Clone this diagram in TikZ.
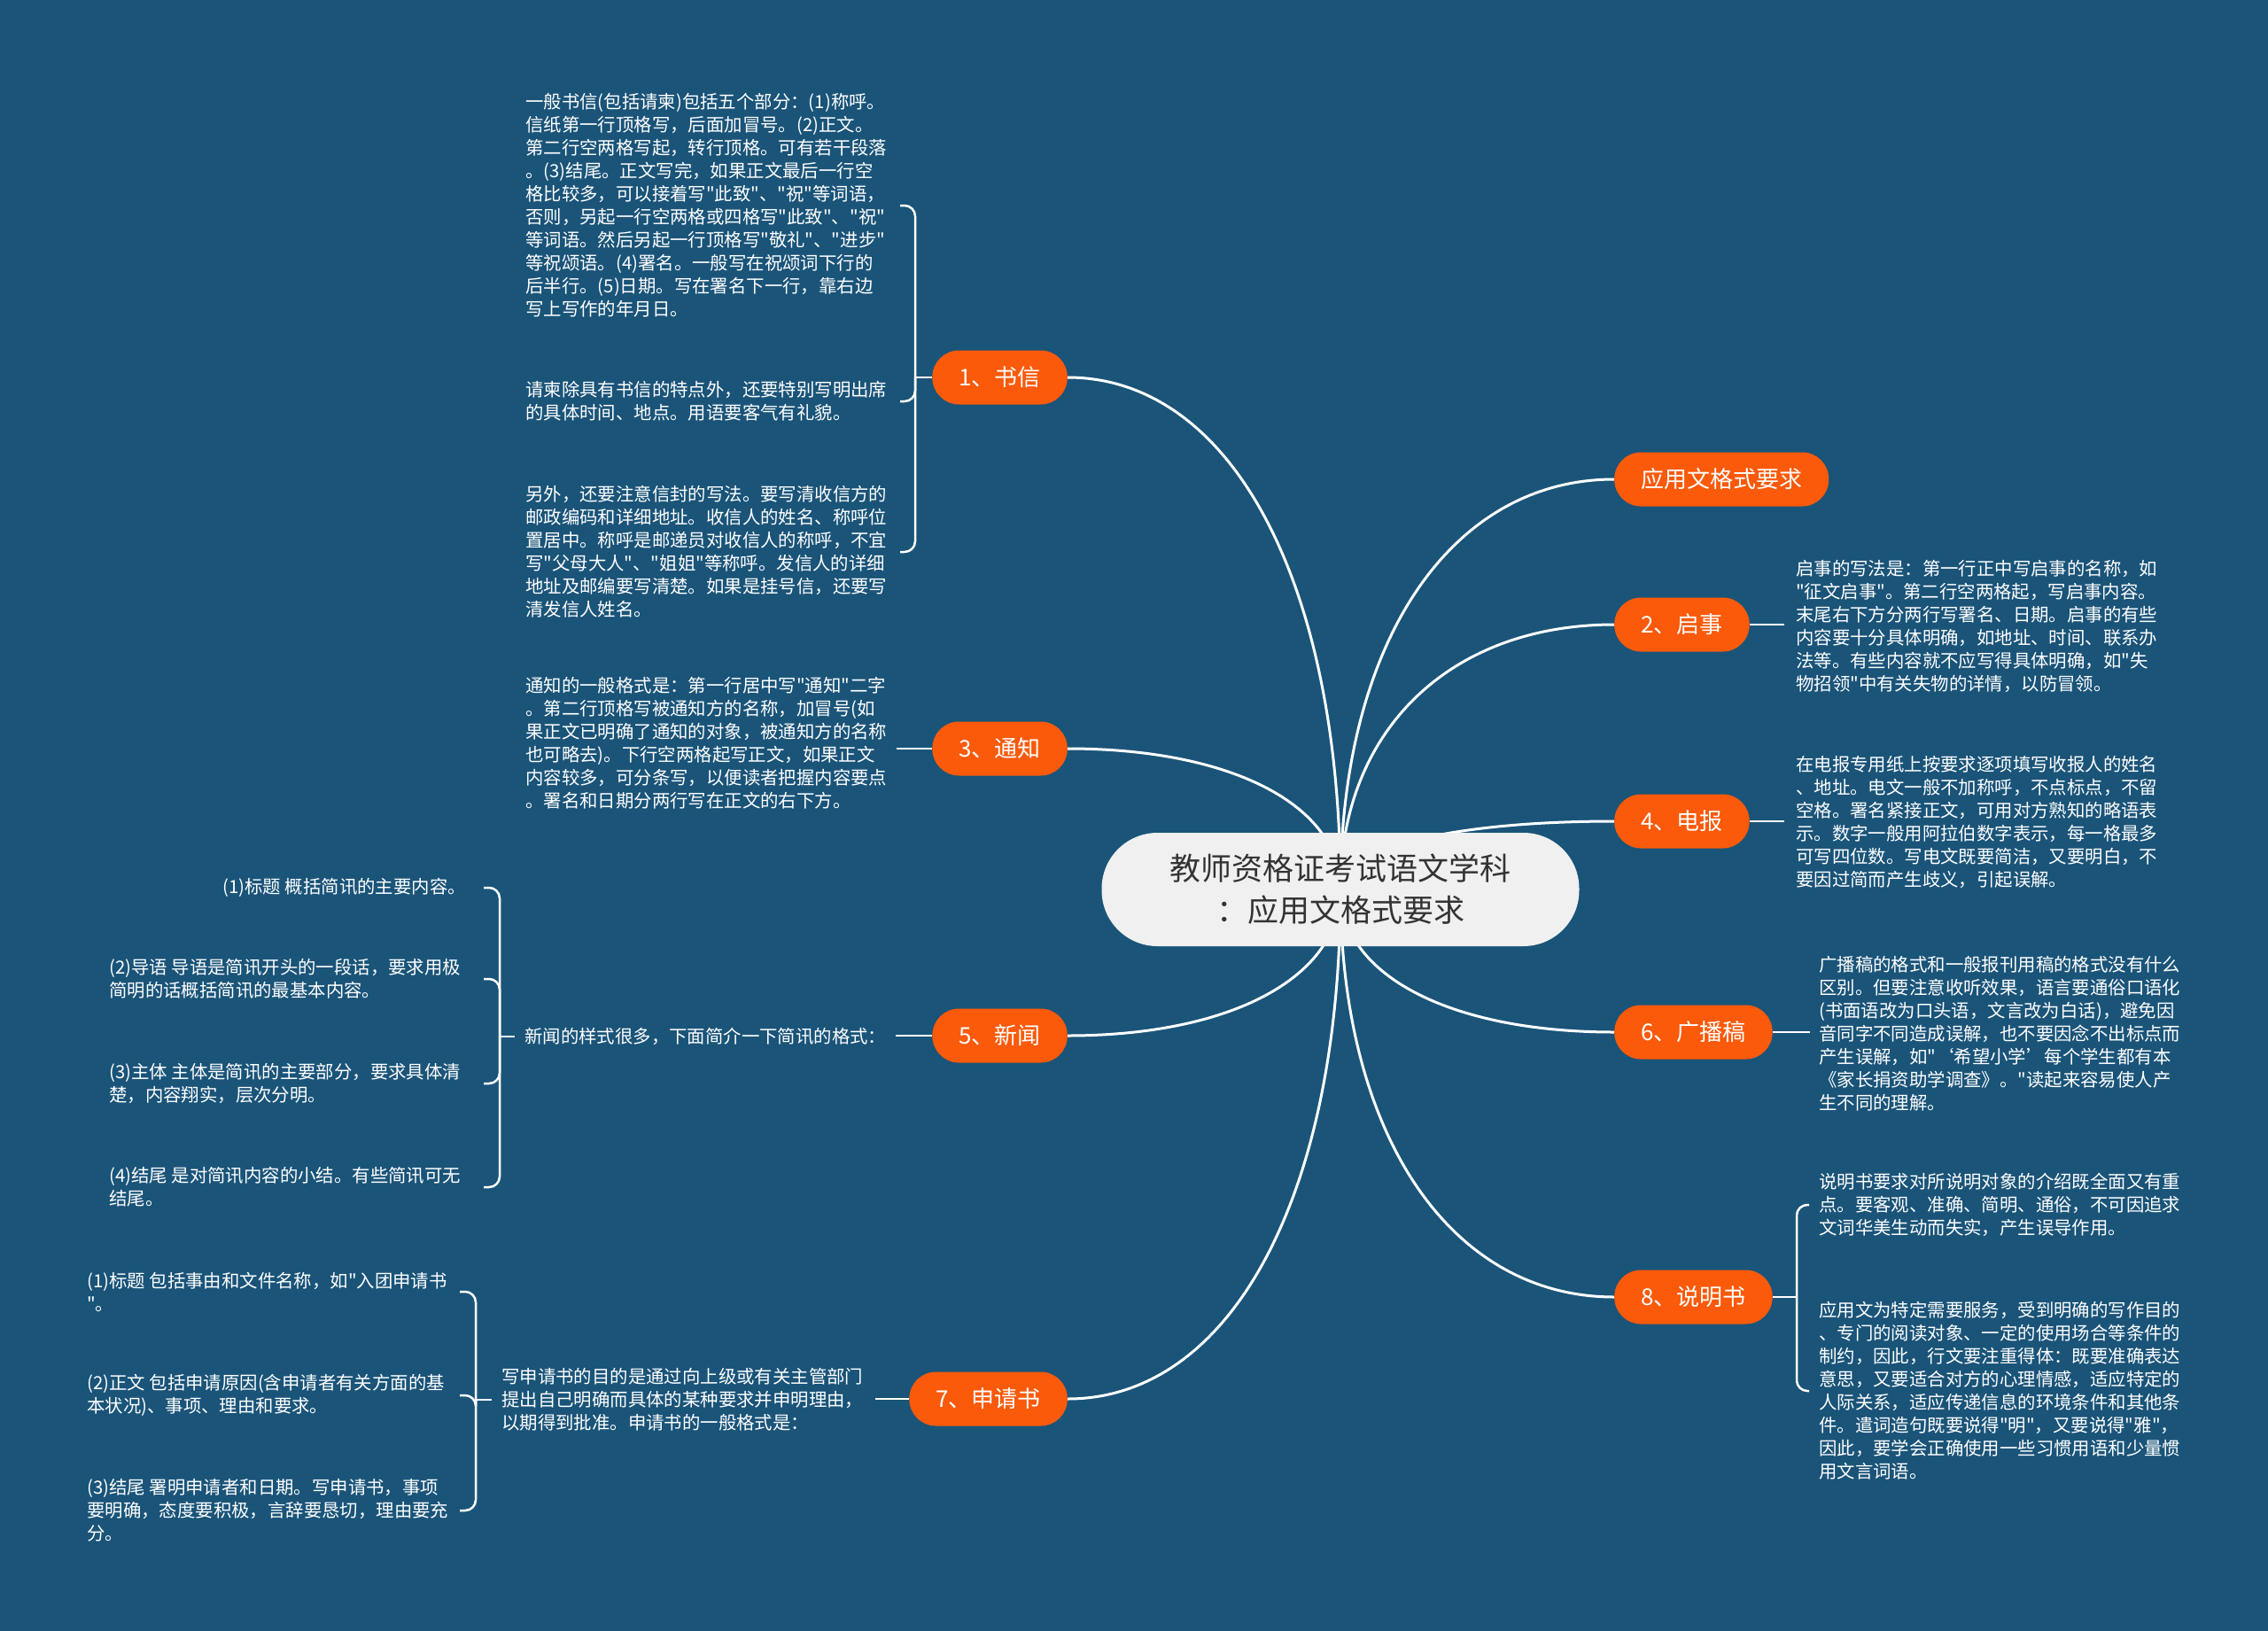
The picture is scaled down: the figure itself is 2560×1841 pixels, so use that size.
\documentclass[tikz,border=0pt]{standalone}
\usepackage{fontspec}
\newfontfamily\cjk{Noto Sans CJK SC}
\usetikzlibrary{calc}
\definecolor{bgblue}{RGB}{26,84,121}
\definecolor{orng}{RGB}{250,90,10}
\definecolor{rootfill}{RGB}{240,240,240}
\definecolor{roottext}{RGB}{51,51,51}
\pgfdeclarelayer{back}
\pgfdeclarelayer{bg}
\pgfsetlayers{back,bg,main}
\begin{document}
\begin{tikzpicture}[x=1pt,y=-1pt,
  rootnode/.style={fill=rootfill, text=roottext, rounded corners=63pt, minimum width=539pt, minimum height=128pt, align=center, font=\cjk\fontsize{35}{47}\selectfont, inner sep=0pt},
  topic/.style={fill=orng, text=white, rounded corners=30pt, minimum height=61pt, inner xsep=30pt, inner ysep=0pt, font=\cjk\fontsize{26}{30}\selectfont},
  leaf/.style={text=white, align=left, inner sep=0pt, font=\cjk\fontsize{20.4}{26}\selectfont},
  link/.style={draw=white, line width=3pt},
  br/.style={draw=white, line width=2.5pt, rounded corners=12pt},
]
\useasboundingbox (0,0) rectangle (2560,1841);
\begin{pgfonlayer}{back}
\fill[bgblue] (0,0) rectangle (2560,1841);
\end{pgfonlayer}

% root
\node[rootnode] (root) at (1513,1004) {教师资格证考试语文学科\\：应用文格式要求};

% topics
\node[topic, anchor=east] (n1) at (1205,426) {1、书信};
\node[topic, anchor=west] (n0) at (1822,541) {应用文格式要求};
\node[topic, anchor=west] (n2) at (1822,705) {2、启事};
\node[topic, anchor=east] (n3) at (1205,845) {3、通知};
\node[topic, anchor=west] (n4) at (1822,927) {4、电报};
\node[topic, anchor=east] (n5) at (1205,1169) {5、新闻};
\node[topic, anchor=west] (n6) at (1822,1165) {6、广播稿};
\node[topic, anchor=east] (n7) at (1205,1579) {7、申请书};
\node[topic, anchor=west] (n8) at (1822,1464) {8、说明书};

% leaves: 书信
\node[leaf, anchor=west] (a1) at (593,232) {一般书信(包括请柬)包括五个部分：(1)称呼。\\信纸第一行顶格写，后面加冒号。(2)正文。\\第二行空两格写起，转行顶格。可有若干段落\\。(3)结尾。正文写完，如果正文最后一行空\\格比较多，可以接着写"此致"、"祝"等词语，\\否则，另起一行空两格或四格写"此致"、"祝"\\等词语。然后另起一行顶格写"敬礼"、"进步"\\等祝颂语。(4)署名。一般写在祝颂词下行的\\后半行。(5)日期。写在署名下一行，靠右边\\写上写作的年月日。};
\node[leaf, anchor=west] (a2) at (593,453) {请柬除具有书信的特点外，还要特别写明出席\\的具体时间、地点。用语要客气有礼貌。};
\node[leaf, anchor=west] (a3) at (593,623) {另外，还要注意信封的写法。要写清收信方的\\邮政编码和详细地址。收信人的姓名、称呼位\\置居中。称呼是邮递员对收信人的称呼，不宜\\写"父母大人"、"姐姐"等称呼。发信人的详细\\地址及邮编要写清楚。如果是挂号信，还要写\\清发信人姓名。};

% 通知
\node[leaf, anchor=west] (c1) at (593,839) {通知的一般格式是：第一行居中写"通知"二字\\。第二行顶格写被通知方的名称，加冒号(如\\果正文已明确了通知的对象，被通知方的名称\\也可略去)。下行空两格起写正文，如果正文\\内容较多，可分条写，以便读者把握内容要点\\。署名和日期分两行写在正文的右下方。};

% 新闻
\node[leaf, anchor=west] (e0) at (592,1170) {新闻的样式很多，下面简介一下简讯的格式：};
\node[leaf, anchor=east] (e1) at (526,1002) {(1)标题 概括简讯的主要内容。};
\node[leaf, anchor=west] (e2) at (123,1105) {(2)导语 导语是简讯开头的一段话，要求用极\\简明的话概括简讯的最基本内容。};
\node[leaf, anchor=west] (e3) at (123,1223) {(3)主体 主体是简讯的主要部分，要求具体清\\楚，内容翔实，层次分明。};
\node[leaf, anchor=west] (e4) at (123,1340) {(4)结尾 是对简讯内容的小结。有些简讯可无\\结尾。};

% 申请书
\node[leaf, anchor=west] (g0) at (566,1580) {写申请书的目的是通过向上级或有关主管部门\\提出自己明确而具体的某种要求并申明理由，\\以期得到批准。申请书的一般格式是：};
\node[leaf, anchor=west] (g1) at (98,1458) {(1)标题 包括事由和文件名称，如"入团申请书\\"。};
\node[leaf, anchor=west] (g2) at (98,1575) {(2)正文 包括申请原因(含申请者有关方面的基\\本状况)、事项、理由和要求。};
\node[leaf, anchor=west] (g3) at (98,1705) {(3)结尾 署明申请者和日期。写申请书，事项\\要明确，态度要积极，言辞要恳切，理由要充\\分。};

% right leaves
\node[leaf, anchor=west] (b2) at (2027,707) {启事的写法是：第一行正中写启事的名称，如\\"征文启事"。第二行空两格起，写启事内容。\\末尾右下方分两行写署名、日期。启事的有些\\内容要十分具体明确，如地址、时间、联系办\\法等。有些内容就不应写得具体明确，如"失\\物招领"中有关失物的详情，以防冒领。};
\node[leaf, anchor=west] (d4) at (2027,928) {在电报专用纸上按要求逐项填写收报人的姓名\\、地址。电文一般不加称呼，不点标点，不留\\空格。署名紧接正文，可用对方熟知的略语表\\示。数字一般用阿拉伯数字表示，每一格最多\\可写四位数。写电文既要简洁，又要明白，不\\要因过简而产生歧义，引起误解。};
\node[leaf, anchor=west] (f6) at (2053,1167) {广播稿的格式和一般报刊用稿的格式没有什么\\区别。但要注意收听效果，语言要通俗口语化\\(书面语改为口头语，文言改为白话)，避免因\\音同字不同造成误解，也不要因念不出标点而\\产生误解，如"‘希望小学’每个学生都有本\\《家长捐资助学调查》。"读起来容易使人产\\生不同的理解。};
\node[leaf, anchor=west] (h1) at (2053,1360) {说明书要求对所说明对象的介绍既全面又有重\\点。要客观、准确、简明、通俗，不可因追求\\文词华美生动而失实，产生误导作用。};
\node[leaf, anchor=west] (h2) at (2053,1570) {应用文为特定需要服务，受到明确的写作目的\\、专门的阅读对象、一定的使用场合等条件的\\制约，因此，行文要注重得体：既要准确表达\\意思，又要适合对方的心理情感，适应特定的\\人际关系，适应传递信息的环境条件和其他条\\件。遣词造句既要说得"明"，又要说得"雅"，\\因此，要学会正确使用一些习惯用语和少量惯\\用文言词语。};

% connectors from root
\begin{pgfonlayer}{bg}
\foreach \n in {n1,n3,n5,n7}
  \draw[link] (root.center) .. controls ($(root.center)!0.6!(root.center |- \n.east)$) and ($(\n.east)!0.6!(\n.east -| root.center)$) .. (\n.east);
\foreach \n in {n0,n2,n4,n6,n8}
  \draw[link] (root.center) .. controls ($(root.center)!0.6!(root.center |- \n.west)$) and ($(\n.west)!0.6!(\n.west -| root.center)$) .. (\n.west);
\end{pgfonlayer}

% 书信 bracket
\coordinate (s1) at (1033,426);
\coordinate (k1) at (1016,0);
\draw[br] (n1.west) -- (s1);
\foreach \t in {a1,a2,a3}
  \draw[br] (s1) |- (k1 |- \t.east);

% 通知 stub
\draw[br] (n3.west) -- ([xshift=-40pt]n3.west);

% 新闻
\draw[br] (n5.west) -- ([xshift=-41pt]n5.west);
\coordinate (s5) at (564,1170);
\coordinate (k5) at (546,0);
\draw[br] ([xshift=-11pt]e0.west) -- (s5);
\foreach \t in {e1,e2,e3,e4}
  \draw[br] (s5) |- (k5 |- \t.east);

% 申请书
\draw[br] (n7.west) -- ([xshift=-38pt]n7.west);
\coordinate (s7) at (537,1580);
\coordinate (k7) at (519,0);
\draw[br] ([xshift=-11pt]g0.west) -- (s7);
\foreach \t in {g1,g2,g3}
  \draw[br] (s7) |- (k7 |- \t.east);

% right stubs
\draw[br] (n2.east) -- ([xshift=39pt]n2.east);
\draw[br] (n4.east) -- ([xshift=39pt]n4.east);
\draw[br] (n6.east) -- ([xshift=42pt]n6.east);

% 说明书 bracket
\coordinate (s8) at (2028,1464);
\coordinate (k8) at (2042,0);
\draw[br] (n8.east) -- (s8);
\foreach \t in {h1,h2}
  \draw[br] (s8) |- (k8 |- \t.west);
\end{tikzpicture}
\end{document}
